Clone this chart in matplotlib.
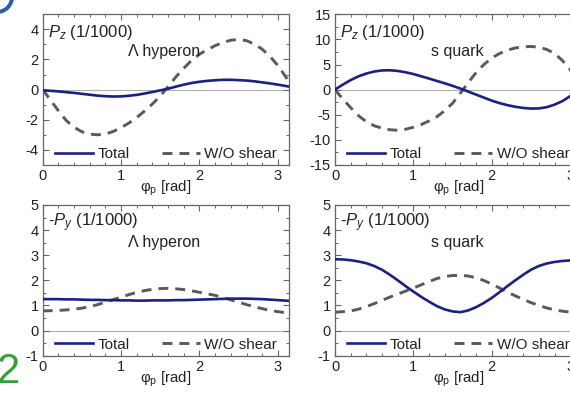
import matplotlib
matplotlib.use("Agg")
import matplotlib.pyplot as plt
from matplotlib.ticker import MultipleLocator
from matplotlib.patches import Ellipse
import numpy as np

plt.rcParams['font.family'] = ['Liberation Sans', 'DejaVu Sans']
plt.rcParams['mathtext.fontset'] = 'custom'
plt.rcParams['mathtext.rm'] = 'Liberation Sans'
plt.rcParams['mathtext.it'] = 'Liberation Sans:italic'
plt.rcParams['axes.unicode_minus'] = False

# ---------------- data ----------------
phi = [0.0, 0.1, 0.2, 0.3, 0.4, 0.5, 0.6, 0.7, 0.8, 0.9, 1.0, 1.1, 1.2, 1.3, 1.4, 1.5,
       1.6, 1.7, 1.8, 1.9, 2.0, 2.1, 2.2, 2.3, 2.4, 2.5, 2.6, 2.7, 2.8, 2.9, 3.0, 3.1, 3.1416]

lam_pz_total = [-0.05, -0.08, -0.12, -0.17, -0.22, -0.28, -0.34, -0.40, -0.44, -0.46, -0.45,
                -0.41, -0.35, -0.26, -0.16, -0.05, 0.06, 0.20, 0.33, 0.44, 0.52, 0.58, 0.62,
                0.65, 0.65, 0.63, 0.60, 0.55, 0.48, 0.41, 0.33, 0.24, 0.20]
lam_pz_noshear = [0.0, -0.7, -1.4, -2.05, -2.5, -2.8, -2.96, -3.0, -2.95, -2.78, -2.52,
                  -2.22, -1.85, -1.42, -0.95, -0.42, 0.2, 0.85, 1.42, 1.95, 2.35, 2.65, 2.92,
                  3.13, 3.28, 3.33, 3.25, 3.02, 2.68, 2.2, 1.6, 0.85, 0.5]

s_pz_total = [0.0, 1.0, 1.9, 2.65, 3.2, 3.6, 3.82, 3.85, 3.72, 3.45, 3.1, 2.65, 2.2, 1.72,
              1.25, 0.75, 0.2, -0.4, -1.0, -1.6, -2.2, -2.7, -3.1, -3.42, -3.65, -3.78,
              -3.75, -3.5, -3.0, -2.3, -1.3, -0.3, 0.0]
s_pz_noshear = [0.0, -1.9, -3.6, -5.2, -6.4, -7.2, -7.7, -8.0, -8.1, -7.9, -7.5, -6.95,
                -6.25, -5.4, -4.2, -2.7, -0.7, 1.4, 3.4, 5.0, 6.3, 7.2, 7.85, 8.3, 8.5, 8.6,
                8.45, 8.0, 7.2, 5.8, 4.0, 1.8, 1.0]

lam_py_total = [1.25, 1.25, 1.25, 1.24, 1.24, 1.23, 1.22, 1.22, 1.21, 1.21, 1.20, 1.20,
                1.19, 1.19, 1.20, 1.20, 1.20, 1.21, 1.21, 1.22, 1.23, 1.24, 1.25, 1.26,
                1.27, 1.27, 1.27, 1.26, 1.25, 1.23, 1.21, 1.19, 1.18]
lam_py_noshear = [0.78, 0.79, 0.80, 0.82, 0.85, 0.89, 0.95, 1.03, 1.13, 1.23, 1.33, 1.43,
                  1.52, 1.59, 1.64, 1.67, 1.68, 1.66, 1.63, 1.58, 1.52, 1.46, 1.40, 1.31,
                  1.22, 1.13, 1.03, 0.95, 0.87, 0.80, 0.75, 0.71, 0.70]

s_py_total = [2.84, 2.83, 2.80, 2.75, 2.68, 2.57, 2.42, 2.22, 2.0, 1.77, 1.55, 1.34, 1.15,
              0.97, 0.84, 0.76, 0.73, 0.80, 0.93, 1.10, 1.30, 1.53, 1.77, 2.0, 2.22, 2.42,
              2.57, 2.67, 2.73, 2.77, 2.79, 2.80, 2.80]
s_py_noshear = [0.73, 0.75, 0.78, 0.85, 0.95, 1.07, 1.20, 1.33, 1.45, 1.57, 1.69, 1.82,
                1.95, 2.07, 2.15, 2.19, 2.20, 2.17, 2.10, 1.99, 1.85, 1.69, 1.53, 1.38,
                1.24, 1.11, 1.0, 0.90, 0.82, 0.77, 0.73, 0.71, 0.70]

panels = [
    dict(total=lam_pz_total, noshear=lam_pz_noshear, ylim=(-5, 5), major=2, minor=1,
         label=r"$P_z$ (1/1000)", name="Λ hyperon", name_x=0.345),
    dict(total=s_pz_total, noshear=s_pz_noshear, ylim=(-15, 15), major=5, minor=2.5,
         label=r"$P_z$ (1/1000)", name="s quark", name_x=0.39),
    dict(total=lam_py_total, noshear=lam_py_noshear, ylim=(-1, 5), major=1, minor=0.5,
         label=r"-$P_y$ (1/1000)", name="Λ hyperon", name_x=0.345),
    dict(total=s_py_total, noshear=s_py_noshear, ylim=(-1, 5), major=1, minor=0.5,
         label=r"-$P_y$ (1/1000)", name="s quark", name_x=0.39),
]

W, H = 570, 393
fig = plt.figure(figsize=(W / 100, H / 100), dpi=100)

boxes = [
    (42.7, 14.3), (335.0, 14.3),
    (42.7, 205.0), (335.0, 205.0),
]
aw, ah = 246.3, 150.6

navy = "#1c1f86"
gray = "#5a5a5a"
spine_c = "#666666"
txt_c = "#222222"

for p, (lx, ty) in zip(panels, boxes):
    ax = fig.add_axes([lx / W, (H - ty - ah) / H, aw / W, ah / H])
    ax.axhline(0, color="#b0b0b0", lw=0.8, zorder=1)
    ax.plot(phi, p["noshear"], color=gray, lw=2.1, ls=(0, (3.4, 2.4)), label="W/O shear", zorder=2)
    ax.plot(phi, p["total"], color=navy, lw=1.9, label="Total", zorder=3)
    ax.set_xlim(0, np.pi)
    ax.set_ylim(*p["ylim"])
    ax.xaxis.set_major_locator(MultipleLocator(1))
    ax.xaxis.set_minor_locator(MultipleLocator(0.2))
    ax.yaxis.set_major_locator(MultipleLocator(p["major"]))
    ax.yaxis.set_minor_locator(MultipleLocator(p["minor"]))
    ax.tick_params(which="both", direction="in", top=True, right=True,
                   color=spine_c, labelsize=10.5, labelcolor=txt_c, pad=3)
    ax.tick_params(which="major", length=4, width=0.8)
    ax.tick_params(which="minor", length=2, width=0.7)
    for s in ax.spines.values():
        s.set_color(spine_c)
        s.set_linewidth(0.9)
    ax.set_xlabel("φ$_\\mathregular{p}$ [rad]", fontsize=10.8, labelpad=-3, color=txt_c)
    ax.text(0.022, 0.88, p["label"], transform=ax.transAxes, fontsize=12,
            ha="left", va="center", color=txt_c)
    ax.text(p["name_x"], 0.75, p["name"], transform=ax.transAxes, fontsize=11.5,
            ha="left", va="center", color=txt_c)
    h, l = ax.get_legend_handles_labels()
    leg = ax.legend([h[1], h[0]], [l[1], l[0]], ncol=2, loc="lower center",
                    bbox_to_anchor=(0.5, -0.065), frameon=False, fontsize=11,
                    handlelength=2.5, handletextpad=0.3, columnspacing=2.1)
    for t in leg.get_texts():
        t.set_color(txt_c)

# decorative fragments at the left edge of the cropped picture
fig.text(-3 / W, 1 - 392 / H, "2", color="#35a035", fontsize=30, ha="left", va="bottom")
arc = Ellipse((-3 / W, 1 + 3 / H), 2 * 15 / W, 2 * 15 / H, transform=fig.transFigure,
              fill=False, edgecolor="#2a5aa8", lw=2.8)
fig.add_artist(arc)

fig.savefig("out.png", dpi=100)
